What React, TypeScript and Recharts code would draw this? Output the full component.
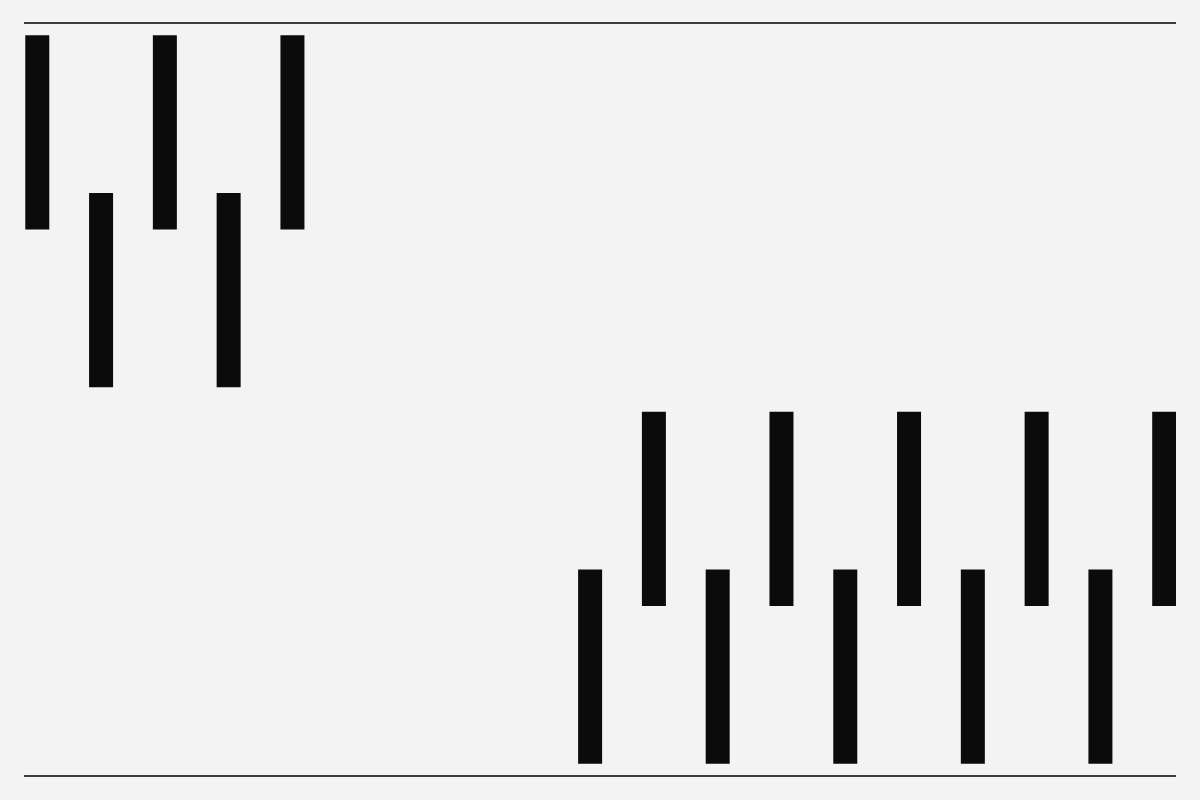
import { Bar, BarChart, ReferenceLine, XAxis, YAxis } from "recharts";

// slot positions of each bar along the x axis
const positions = [0, 3, 6, 9, 12, 26, 29, 32, 35, 38, 41, 44, 47, 50, 53];
const lows = [44, 31, 44, 31, 44, 0, 13, 0, 13, 0, 13, 0, 13, 0, 13];
const highs = [60, 47, 60, 47, 60, 16, 29, 16, 29, 16, 29, 16, 29, 16, 29];

const yDomain: [number, number] = [-1, 61];
const xDomain: [number, number] = [-0.62, 53.56];

const data = positions.map((x, i) => ({ x, range: [lows[i], highs[i]] }));

export default function App() {
  return (
    <div
      style={{
        position: "absolute",
        left: 0,
        top: 0,
        width: 1200,
        height: 800,
        background: "#f3f3f3",
      }}
    >
      <BarChart
        width={1200}
        height={800}
        data={data}
        margin={{ top: 23, right: 24, bottom: 24, left: 24 }}
      >
        <XAxis type="number" dataKey="x" domain={xDomain} hide allowDataOverflow />
        <YAxis type="number" domain={yDomain} hide allowDataOverflow />
        <ReferenceLine y={yDomain[1]} stroke="#000" strokeWidth={1.5} />
        <ReferenceLine y={yDomain[0]} stroke="#000" strokeWidth={1.5} />
        <Bar dataKey="range" fill="#0b0b0b" barSize={24} isAnimationActive={false} />
      </BarChart>
    </div>
  );
}
